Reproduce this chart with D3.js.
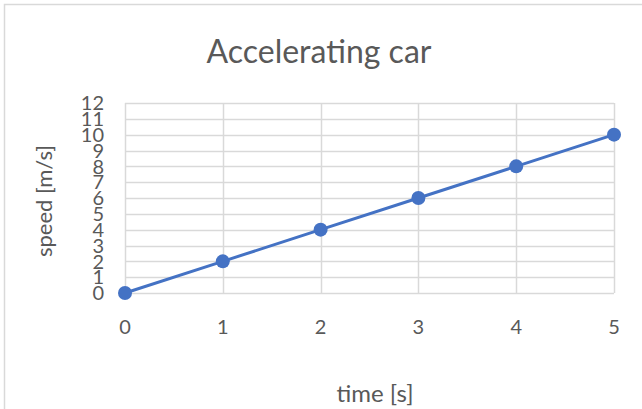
<!DOCTYPE html>
<html><head><meta charset="utf-8">
<script src="https://cdn.jsdelivr.net/npm/d3@7/dist/d3.min.js"></script>
<style>html,body{margin:0;padding:0;background:#fff;}svg{display:block;}</style>
</head><body>
<script>
const title = "Accelerating car";
const xLabel = "time [s]";
const yLabel = "speed [m/s]";
const times = [0, 1, 2, 3, 4, 5];
const speeds = [0, 2, 4, 6, 8, 10];
const yTicks = [0,1,2,3,4,5,6,7,8,9,10,11,12];
const xTicks = [0,1,2,3,4,5];

const W = 642, H = 409;
const svg = d3.select("body").append("svg").attr("width", W).attr("height", H);
const font = "Lato, 'Open Sans', sans-serif";
const textCol = "#595959";

// outer chart border
svg.append("rect").attr("x", 4.5).attr("y", 4.5).attr("width", W + 10).attr("height", H + 10)
  .attr("fill", "none").attr("stroke", "#d9d9d9").attr("stroke-width", 1.5);

const x = d3.scaleLinear().domain([0, 5]).range([125, 614]);
const y = d3.scaleLinear().domain([0, 12]).range([293, 103]);

const g = svg.append("g");
g.selectAll("line.h").data(yTicks).join("line")
  .attr("x1", x(0)).attr("x2", x(5))
  .attr("y1", d => Math.round(y(d)) + 0.5).attr("y2", d => Math.round(y(d)) + 0.5)
  .attr("stroke", "#d9d9d9").attr("stroke-width", 1.5);
g.selectAll("line.v").data(xTicks).join("line")
  .attr("y1", y(0)).attr("y2", y(12))
  .attr("x1", d => Math.round(x(d)) + 0.5).attr("x2", d => Math.round(x(d)) + 0.5)
  .attr("stroke", "#d9d9d9").attr("stroke-width", 1.5);

// y tick labels
svg.selectAll("text.yt").data(yTicks).join("text")
  .attr("x", 104).attr("y", d => y(d)).attr("dy", "0.36em")
  .attr("text-anchor", "end").attr("font-family", font).attr("font-size", 20)
  .attr("fill", textCol).text(d => d);

// x tick labels
svg.selectAll("text.xt").data(xTicks).join("text")
  .attr("x", d => x(d)).attr("y", 334)
  .attr("text-anchor", "middle").attr("font-family", font).attr("font-size", 20)
  .attr("fill", textCol).text(d => d);

// title
svg.append("text").attr("x", 319).attr("y", 63).attr("text-anchor", "middle")
  .attr("font-family", font).attr("font-size", 32).attr("fill", textCol).text(title);
// axis titles
svg.append("text").attr("x", 375).attr("y", 402).attr("text-anchor", "middle")
  .attr("font-family", font).attr("font-size", 24).attr("fill", textCol).text(xLabel);
svg.append("text").attr("transform", "translate(52,201) rotate(-90)").attr("text-anchor", "middle")
  .attr("font-family", font).attr("font-size", 22).attr("fill", textCol).text(yLabel);

const data = times.map((t, i) => ({t, v: speeds[i]}));
const color = "#4472c4";
svg.append("path").datum(data)
  .attr("d", d3.line().x(d => x(d.t)).y(d => y(d.v)))
  .attr("fill", "none").attr("stroke", color).attr("stroke-width", 3);
svg.selectAll("circle").data(data).join("circle")
  .attr("cx", d => x(d.t)).attr("cy", d => y(d.v)).attr("r", 7)
  .attr("fill", color);
</script>
</body></html>
